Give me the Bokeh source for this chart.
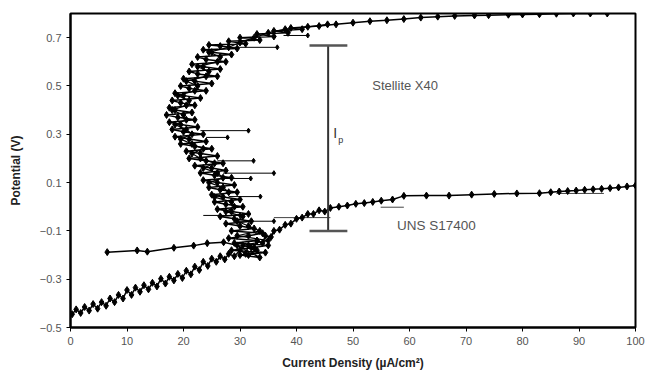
from bokeh.plotting import figure
from bokeh.models import Range1d, FixedTicker, Label, ColumnDataSource
from bokeh.core.properties import value
from bokeh.embed import file_html
from bokeh.resources import INLINE

# ---- data ----
stellite_x = [6.5, 11.8, 13.6, 18.3, 21.8, 24.2, 27.1,
              29.5, 33.5, 30.0, 34.5, 28.5, 32.0, 35.0, 29.0, 33.0, 28.0, 31.5, 34.0, 28.5, 32.5,
              30.0, 27.5, 32.0, 29.0, 26.5, 31.5, 28.5, 26.0, 30.5, 27.5, 25.5, 30.0, 27.0, 25.0,
              29.5, 26.5, 24.5, 29.0, 26.0, 23.5, 28.5, 25.5, 23.0, 27.5, 25.0, 22.0, 27.0, 24.0,
              21.0, 26.0, 23.0, 20.5, 25.0, 22.0, 19.5, 24.0, 21.0, 18.5, 23.5, 20.0, 18.0, 22.5,
              19.5, 17.5, 22.0, 19.0, 17.0, 21.5, 18.5, 17.5, 22.0, 19.5, 18.0, 23.0, 20.0, 18.5,
              24.0, 21.0, 19.5, 25.0, 22.0, 20.0, 26.0, 22.5, 21.0, 26.5, 23.5, 21.5, 27.5, 24.0,
              22.5, 28.5, 25.0, 23.5, 29.5, 26.5, 24.5, 31.0, 28.0, 33.5, 30.0, 36.0, 33.0, 38.5,
              36.0, 41.0, 39.0, 44.0, 47.0, 50.0, 53.0, 56.0, 59.0, 62.0, 65.0, 68.0, 71.5, 74.0,
              77.5, 80.0, 83.0, 86.0, 89.0, 92.0, 95.0]
stellite_y = [-0.188, -0.181, -0.186, -0.170, -0.161, -0.151, -0.147,
              -0.16, -0.21, -0.20, -0.19, -0.18, -0.17, -0.16, -0.15, -0.14, -0.13, -0.12, -0.11, -0.10, -0.09,
              -0.08, -0.07, -0.06, -0.05, -0.04, -0.03, -0.02, -0.01, 0.00, 0.01, 0.02, 0.03, 0.04, 0.05,
              0.06, 0.07, 0.08, 0.09, 0.10, 0.11, 0.12, 0.13, 0.14, 0.15, 0.16, 0.17, 0.18, 0.19,
              0.20, 0.21, 0.22, 0.23, 0.24, 0.25, 0.26, 0.27, 0.28, 0.29, 0.30, 0.31, 0.32, 0.33,
              0.34, 0.35, 0.36, 0.37, 0.38, 0.39, 0.40, 0.41, 0.42, 0.43, 0.44, 0.45, 0.46, 0.47,
              0.48, 0.49, 0.50, 0.51, 0.52, 0.53, 0.54, 0.55, 0.56, 0.57, 0.58, 0.59, 0.60, 0.61,
              0.62, 0.63, 0.64, 0.65, 0.655, 0.665, 0.67, 0.675, 0.685, 0.69, 0.70, 0.705, 0.715, 0.72,
              0.728, 0.735, 0.74, 0.748, 0.755, 0.762, 0.768, 0.772, 0.777, 0.783, 0.787, 0.79, 0.792, 0.793,
              0.795, 0.796, 0.797, 0.799, 0.80, 0.80, 0.80]

# second overlaid scan of the Stellite X40 band
stellite2_x = [31.5, 33.0, 30.5, 35.0, 29.5, 33.5, 31.5, 29.5, 30.5, 27.5, 29.0, 28.5, 25.5, 28.0,
               27.0, 24.5, 27.0, 26.0, 23.5, 25.5, 23.0, 21.5, 23.5, 21.5, 19.5, 21.5, 20.5, 18.5,
               20.5, 20.0, 18.0, 20.5, 21.0, 19.0, 22.0, 22.5, 20.5, 24.0, 24.5, 22.5, 26.0, 26.5,
               24.5, 28.0, 30.0, 32.5, 35.0, 38.0, 42.0, 45.5]
stellite2_y = [-0.20, -0.18, -0.16, -0.14, -0.12, -0.10, -0.08, -0.06, -0.04, -0.02, 0.00, 0.02,
               0.04, 0.06, 0.08, 0.10, 0.12, 0.14, 0.16, 0.18, 0.20, 0.22, 0.24, 0.26, 0.28, 0.30,
               0.32, 0.34, 0.36, 0.38, 0.40, 0.42, 0.44, 0.46, 0.48, 0.50, 0.52, 0.54, 0.56, 0.58,
               0.60, 0.62, 0.64, 0.66, 0.68, 0.70, 0.72, 0.735, 0.745, 0.755]

stellite_err_y = [0.709, 0.66, 0.315, 0.287, 0.19, 0.139, 0.117, 0.042, -0.036, -0.06]
stellite_err_x0 = [37.7, 27.8, 23.0, 24.0, 26.0, 27.0, 27.5, 28.0, 23.5, 30.0]
stellite_err_x1 = [42.0, 36.6, 31.5, 27.8, 32.4, 36.0, 31.9, 33.6, 30.0, 36.0]

uns_x = [0.3, 1.0, 1.8, 2.5, 3.3, 4.0, 4.8, 5.5, 6.3, 7.0, 7.8, 8.5, 9.3, 10.0, 10.8, 11.5, 12.3,
         13.0, 13.8, 14.5, 15.3, 16.0, 16.8, 17.5, 18.3, 19.0, 19.8, 20.5, 21.3, 22.0, 22.8, 23.5,
         24.3, 25.0, 25.8, 26.5, 27.3, 28.0, 29.0, 30.0, 31.0, 31.5, 32.5, 33.0, 34.0, 34.5, 35.5,
         36.0, 37.0, 38.0, 39.0, 40.0, 41.0, 42.0, 43.0, 44.0, 45.0, 46.0, 47.5, 49.0, 50.5, 52.0,
         53.5, 55.0, 57.0, 59.0, 63.0, 67.0, 71.0, 75.0, 79.0, 83.0, 85.0, 86.5, 88.0, 89.5, 91.0,
         92.5, 94.0, 95.5, 97.0, 98.5, 100.0]
uns_y = [-0.445, -0.425, -0.44, -0.415, -0.43, -0.403, -0.422, -0.395, -0.41, -0.38, -0.395, -0.365,
         -0.38, -0.345, -0.365, -0.335, -0.352, -0.325, -0.342, -0.315, -0.33, -0.298, -0.318, -0.29,
         -0.305, -0.278, -0.295, -0.265, -0.28, -0.248, -0.262, -0.228, -0.245, -0.215, -0.228, -0.205,
         -0.218, -0.195, -0.205, -0.18, -0.195, -0.16, -0.17, -0.14, -0.15, -0.12, -0.125, -0.10,
         -0.095, -0.075, -0.07, -0.05, -0.045, -0.03, -0.03, -0.015, -0.02, -0.005, 0.0, 0.005, 0.012,
         0.015, 0.02, 0.025, 0.03, 0.045, 0.046, 0.046, 0.05, 0.053, 0.055, 0.056, 0.06, 0.063, 0.065,
         0.067, 0.07, 0.072, 0.074, 0.077, 0.08, 0.084, 0.088]

uns_err_y = [-0.002, 0.055, -0.045]
uns_err_x0 = [54.9, 86.0, 36.0]
uns_err_x1 = [59.0, 94.4, 46.0]

ip_x = 45.6
ip_y0 = -0.10
ip_y1 = 0.667
ip_cap_x0 = 42.3
ip_cap_x1 = 49.0

x_ticks = [0, 10, 20, 30, 40, 50, 60, 70, 80, 90, 100]
y_ticks = [-0.5, -0.3, -0.1, 0.1, 0.3, 0.5, 0.7]

FONT = "Liberation Sans"

p = figure(width=646, height=383, output_backend="svg", toolbar_location=None,
           x_range=Range1d(0, 100), y_range=Range1d(-0.5, 0.8),
           min_border_left=70, min_border_right=11, min_border_top=13, min_border_bottom=56)
p.grid.visible = False
p.background_fill_color = "white"
p.border_fill_color = "white"
p.outline_line_color = "black"
p.outline_line_width = 2
p.outline_line_alpha = 1

for ax in (p.xaxis[0], p.yaxis[0]):
    ax.axis_line_color = "black"
    ax.axis_line_width = 2
    ax.major_tick_in = 0
    ax.major_tick_out = 4
    ax.minor_tick_in = 0
    ax.minor_tick_out = 0
    ax.major_tick_line_color = "black"
    ax.major_label_text_font = FONT
    ax.major_label_text_font_size = "11px"
    ax.major_label_text_color = "#555555"
    ax.axis_label_text_font = FONT
    ax.axis_label_text_font_size = "12px"
    ax.axis_label_text_font_style = "bold"
    ax.axis_label_text_color = "#222222"

p.xaxis.ticker = FixedTicker(ticks=x_ticks)
p.yaxis.ticker = FixedTicker(ticks=y_ticks)
p.xaxis.axis_label = "Current Density (µA/cm²)"
p.yaxis.axis_label = "Potential (V)"
p.yaxis.axis_label_standoff = 14
p.xaxis.axis_label_standoff = 8

# error bars (horizontal, to the right)
p.segment(x0=stellite_err_x0, y0=stellite_err_y, x1=stellite_err_x1, y1=stellite_err_y,
          line_color="black", line_width=1)
p.scatter(stellite_err_x1, stellite_err_y, marker="diamond", size=5, color="black")
p.segment(x0=uns_err_x0, y0=uns_err_y, x1=uns_err_x1, y1=uns_err_y,
          line_color="#444444", line_width=1)

# curves
p.line(uns_x, uns_y, line_color="black", line_width=1.5)
p.scatter(uns_x, uns_y, marker="diamond", size=7, color="black")
p.line(stellite_x, stellite_y, line_color="black", line_width=1.5)
p.scatter(stellite_x, stellite_y, marker="diamond", size=7, color="black")
p.line(stellite2_x, stellite2_y, line_color="black", line_width=1.2)
p.scatter(stellite2_x, stellite2_y, marker="diamond", size=7, color="black")

# Ip marker
p.segment(x0=[ip_x], y0=[ip_y0], x1=[ip_x], y1=[ip_y1], line_color="#333333", line_width=2)
p.segment(x0=[ip_cap_x0, ip_cap_x0], y0=[ip_y0, ip_y1], x1=[ip_cap_x1, ip_cap_x1], y1=[ip_y0, ip_y1],
          line_color="#555555", line_width=2.5)

ann = ColumnDataSource(dict(x=[46.5, 47.4], y=[0.307, 0.275], t=["I", "p"], s=["14px", "9px"]))
p.text(x="x", y="y", text="t", source=ann, text_font=value(FONT), text_font_size="s",
       text_color="#333333", text_baseline="middle")

p.add_layout(Label(x=53.4, y=0.502, text="Stellite X40", text_font=FONT, text_font_size="13px",
                   text_color="#555555", text_baseline="middle"))
p.add_layout(Label(x=57.8, y=-0.078, text="UNS S17400", text_font=FONT, text_font_size="13.5px",
                   text_color="#555555", text_baseline="middle"))

open("out.html", "w").write(file_html(p, INLINE))
